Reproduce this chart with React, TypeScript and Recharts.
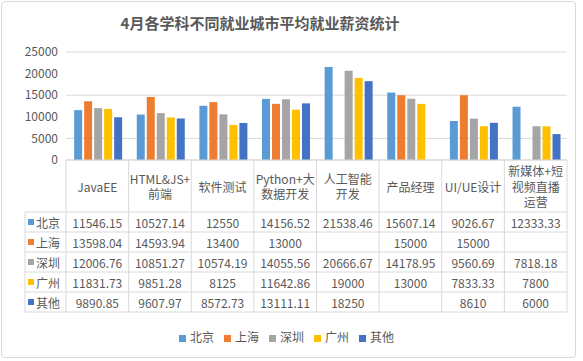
import React from 'react'
import { BarChart, Bar, XAxis, YAxis, CartesianGrid, Legend } from 'recharts'

const categories = ['JavaEE', 'HTML&JS+前端', '软件测试', 'Python+大数据开发', '人工智能开发', '产品经理', 'UI/UE设计', '新媒体+短视频直播运营']
const categoryLines = [['JavaEE'], ['HTML&JS+', '前端'], ['软件测试'], ['Python+大', '数据开发'], ['人工智能', '开发'], ['产品经理'], ['UI/UE设计'], ['新媒体+短', '视频直播', '运营']]
const cities = ['北京', '上海', '深圳', '广州', '其他']
const colors = ['#5B9BD5', '#ED7D31', '#A5A5A5', '#FFC000', '#4472C4']

const beijing = [11546.15, 10527.14, 12550, 14156.52, 21538.46, 15607.14, 9026.67, 12333.33]
const shanghai = [13598.04, 14593.94, 13400, 13000, null, 15000, 15000, null]
const shenzhen = [12006.76, 10851.27, 10574.19, 14055.56, 20666.67, 14178.95, 9560.69, 7818.18]
const guangzhou = [11831.73, 9851.28, 8125, 11642.86, 19000, 13000, 7833.33, 7800]
const other = [9890.85, 9607.97, 8572.73, 13111.11, 18250, null, 8610, 6000]
const yTicks = [0, 5000, 10000, 15000, 20000, 25000]

const series = [beijing, shanghai, shenzhen, guangzhou, other]

const data = categories.map((name, i) => {
  const row: any = { name }
  cities.forEach((c, j) => { row[c] = series[j][i] })
  return row
})

const W = 583
const H = 361
const PLOT_L = 66
const PLOT_R = 567
const PLOT_T = 52
const PLOT_B = 160
const HEAD_L = 25
const ROW_TOP = 212
const ROW_H = 20
const BAND = (PLOT_R - PLOT_L) / categories.length
const LINE = '#d9d9d9'
const TEXT = '#595959'
const FONT = '"Noto Sans CJK SC", "Noto Sans", sans-serif'

const TableTick = (props: any) => {
  const { x, payload } = props
  const i = payload.index
  const left = x - BAND / 2
  const right = x + BAND / 2
  const lines = categoryLines[i]
  const labelMid = (PLOT_B + ROW_TOP) / 2
  return (
    <g fontFamily={FONT} fontSize={12} fill={TEXT}>
      {i === 0 && (
        <g>
          <line x1={left} x2={left} y1={PLOT_B} y2={ROW_TOP + ROW_H * 5} stroke={LINE} />
          <line x1={HEAD_L} x2={HEAD_L} y1={ROW_TOP} y2={ROW_TOP + ROW_H * 5} stroke={LINE} />
          {[0, 1, 2, 3, 4, 5].map(r => (
            <line key={r} x1={HEAD_L} x2={PLOT_R} y1={ROW_TOP + r * ROW_H} y2={ROW_TOP + r * ROW_H} stroke={LINE} />
          ))}
          {cities.map((c, r) => (
            <g key={c}>
              <rect x={28} y={ROW_TOP + r * ROW_H + 7} width={6} height={6} fill={colors[r]} />
              <text x={36} y={ROW_TOP + r * ROW_H + ROW_H / 2} dominantBaseline="central" fill={TEXT}>{c}</text>
            </g>
          ))}
        </g>
      )}
      <line x1={right} x2={right} y1={PLOT_B} y2={ROW_TOP + ROW_H * 5} stroke={LINE} />
      {lines.map((t, k) => (
        <text key={k} x={x} y={labelMid - (lines.length - 1) * 15.5 / 2 + k * 15.5} textAnchor="middle" dominantBaseline="central" fill={TEXT}>{t}</text>
      ))}
      {series.map((s, r) => (
        <text key={r} x={x} y={ROW_TOP + r * ROW_H + ROW_H / 2} textAnchor="middle" dominantBaseline="central" fill={TEXT}>
          {s[i] == null ? '' : String(s[i])}
        </text>
      ))}
    </g>
  )
}

const App = () => {
  return (
    <div style={{ position: 'fixed', left: 0, top: 0, width: W, height: H, background: '#fff', fontFamily: FONT }}>
      <div style={{ position: 'absolute', left: 1, top: 1, width: 575, height: 357, border: `1px solid ${LINE}`, borderRadius: 4, boxSizing: 'border-box' }} />
      <div style={{ position: 'absolute', left: 0, top: 12, width: 520, textAlign: 'center', fontSize: 15, fontWeight: 'bold', color: TEXT }}>
        4月各学科不同就业城市平均就业薪资统计
      </div>
      <BarChart
        width={W}
        height={H}
        data={data}
        margin={{ top: PLOT_T, right: W - PLOT_R, left: PLOT_L - 50, bottom: H - PLOT_B - 160 }}
        barCategoryGap="13%"
        barGap={2}
      >
        <CartesianGrid vertical={false} stroke={LINE} />
        <XAxis dataKey="name" height={160} interval={0} tickLine={false} axisLine={{ stroke: LINE }} tick={<TableTick />} />
        <YAxis width={50} domain={[0, 25000]} ticks={yTicks} axisLine={false} tickLine={false}
          tick={{ fill: TEXT, fontSize: 12, fontFamily: FONT }} />
        <Legend
          verticalAlign="middle"
          align="center"
          layout="horizontal"
          iconType="square"
          iconSize={7}
          itemSorter={(item: any) => cities.indexOf(item.value)}
          wrapperStyle={{ top: 328, left: 0, width: W, fontSize: 12, fontFamily: FONT }}
          formatter={(v: any) => <span style={{ color: TEXT }}>{v}</span>}
        />
        {cities.map((c, j) => (
          <Bar key={c} dataKey={c} fill={colors[j]} legendType="square" isAnimationActive={false} />
        ))}
      </BarChart>
    </div>
  )
}

export default App
